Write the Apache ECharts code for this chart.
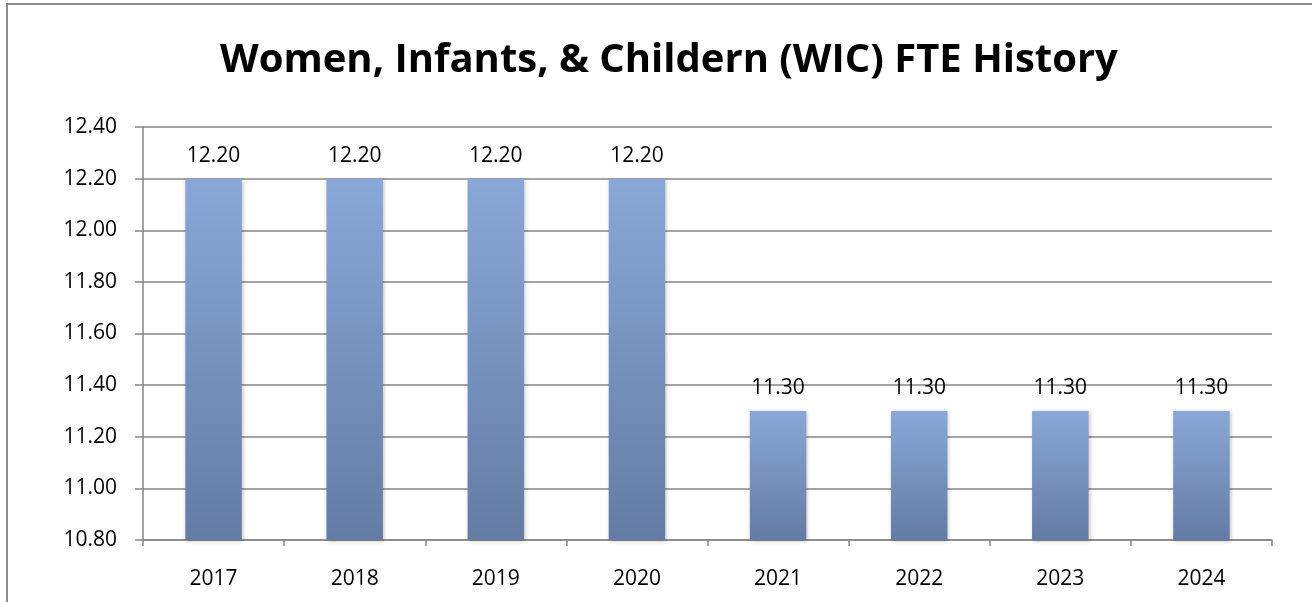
<!DOCTYPE html>
<html><head><meta charset="utf-8">
<script src="https://cdn.jsdelivr.net/npm/echarts@6/dist/echarts.min.js"></script>
<style>html,body{margin:0;padding:0;background:#fff}#c{width:1312px;height:602px}</style>
</head><body><div id="c"></div>
<script>
const categories = ['2017','2018','2019','2020','2021','2022','2023','2024'];
const fteValues = [12.20,12.20,12.20,12.20,11.30,11.30,11.30,11.30];
const yMin = 10.80, yMax = 12.40, yStep = 0.20;
const titleText = 'Women, Infants, & Childern (WIC) FTE History';

const chart = echarts.init(document.getElementById('c'));
const font = '"Open Sans", "Liberation Sans", sans-serif';
chart.setOption({
  animation:false,
  backgroundColor:'#fff',
  title:{text:titleText,left:215,top:36,textStyle:{fontFamily:font,fontWeight:'bold',fontSize:40,color:'#000'}},
  graphic:[{type:'rect',shape:{x:7,y:4,width:1330,height:640},style:{fill:'none',stroke:'#8c8c8c',lineWidth:2},silent:true}],
  grid:{left:143,right:40,top:127,bottom:62},
  xAxis:{type:'category',data:categories,
    axisLine:{lineStyle:{color:'#868686',width:1.5}},
    axisTick:{show:true,length:6,lineStyle:{color:'#868686',width:1.5}},
    axisLabel:{color:'#000',fontFamily:font,fontSize:21,margin:29}},
  yAxis:{type:'value',min:yMin,max:yMax,interval:yStep,
    axisLine:{show:true,lineStyle:{color:'#868686',width:1.5}},
    axisTick:{show:true,length:8,lineStyle:{color:'#868686',width:1.5}},
    splitLine:{lineStyle:{color:'#868686',width:1.5}},
    axisLabel:{color:'#000',fontFamily:font,fontSize:21,margin:26,formatter:v=>v.toFixed(2)}},
  series:[{type:'bar',data:fteValues,barWidth:'40%',
    itemStyle:{color:new echarts.graphic.LinearGradient(0,0,0,1,[{offset:0,color:'#89a7d8'},{offset:1,color:'#647ca4'}]),
      shadowColor:'rgba(0,0,0,0.25)',shadowBlur:4,shadowOffsetX:1,shadowOffsetY:1},
    label:{show:true,position:'top',distance:12,color:'#000',fontFamily:font,fontSize:21,formatter:p=>p.value.toFixed(2)}}]
});
</script></body></html>
